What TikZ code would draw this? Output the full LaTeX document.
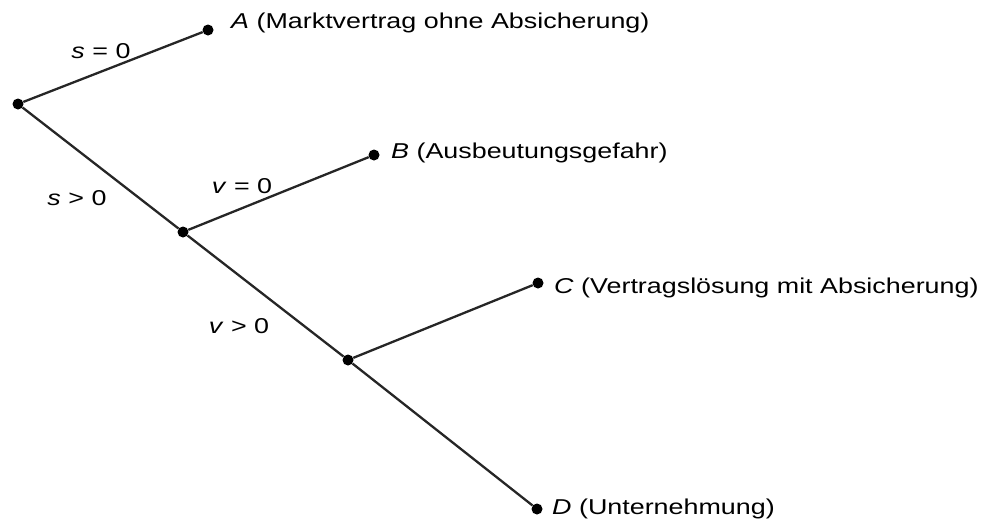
\documentclass[tikz,border=0pt]{standalone}
\usepackage{fontspec}
\setmainfont{Liberation Sans}
\begin{document}
\begin{tikzpicture}[x=1pt,y=-1pt,
  dot/.style={circle,fill=black,inner sep=0pt,minimum size=11pt},
  branch/.style={line width=2.3pt,black!85},
  lbl/.style={inner sep=0pt,anchor=base west,font=\fontsize{21.5}{24}\selectfont},
  elbl/.style={inner sep=0pt,anchor=base,font=\fontsize{21.5}{24}\selectfont}]
\useasboundingbox (0,0) rectangle (988,525);
\node[dot] (r) at (18,104) {};
\node[dot] (a) at (208,30) {};
\node[dot] (n1) at (183,232) {};
\node[dot] (b) at (374,155) {};
\node[dot] (n2) at (348,360) {};
\node[dot] (c) at (538,283) {};
\node[dot] (d) at (537,509) {};
\draw[branch] (r) -- (a);
\draw[branch] (r) -- (n1);
\draw[branch] (n1) -- (b);
\draw[branch] (n1) -- (n2);
\draw[branch] (n2) -- (c);
\draw[branch] (n2) -- (d);
\node[lbl] (ta) at (231,28) {\scalebox{1.25}[1]{\textit{A} (Marktvertrag ohne Absicherung)}};
\node[lbl] (tb) at (391,158) {\scalebox{1.25}[1]{\textit{B} (Ausbeutungsgefahr)}};
\node[lbl] (tc) at (554,293) {\scalebox{1.25}[1]{\textit{C} (Vertragslösung mit Absicherung)}};
\node[lbl] (td) at (552,514) {\scalebox{1.25}[1]{\textit{D} (Unternehmung)}};
\node[elbl] (e1) at (101,58) {\scalebox{1.25}[1]{\textit{s} = 0}};
\node[elbl] (e2) at (77,205) {\scalebox{1.25}[1]{\textit{s} > 0}};
\node[elbl] (e3) at (242,193) {\scalebox{1.25}[1]{\textit{v} = 0}};
\node[elbl] (e4) at (239,333) {\scalebox{1.25}[1]{\textit{v} > 0}};
\end{tikzpicture}
\end{document}
